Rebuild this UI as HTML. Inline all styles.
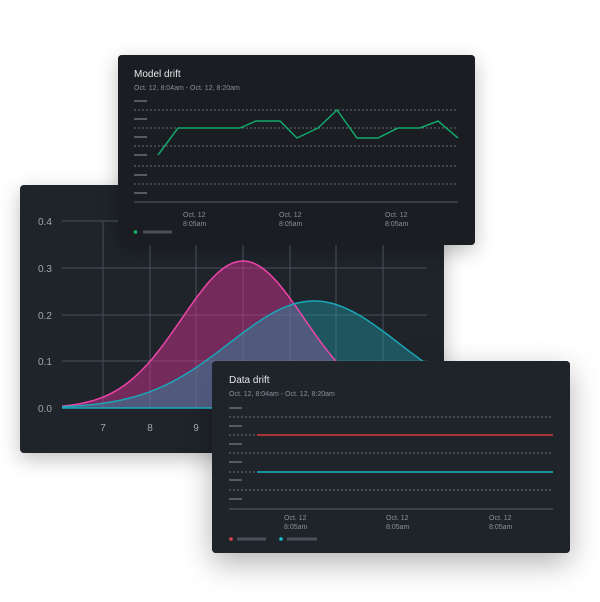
<!DOCTYPE html>
<html><head><meta charset="utf-8"><style>
body{margin:0;width:600px;height:602px;background:#fff;position:relative;overflow:hidden;font-family:"Liberation Sans",sans-serif}
.card{position:absolute;border-radius:4px}
svg{position:absolute;left:0;top:0}
</style></head><body>
<div class="card" style="left:20px;top:185px;width:424px;height:268px;background:#1f242b;box-shadow:0 6px 20px rgba(0,0,0,.25)"></div>
<div class="card" style="left:118px;top:55px;width:357px;height:190px;background:#1a1d21;box-shadow:0 6px 20px rgba(0,0,0,.25)"></div>
<div class="card" style="left:212px;top:361px;width:358px;height:192px;background:#1f242b;box-shadow:0 10px 30px rgba(0,0,0,.3)"></div>
<svg width="600" height="602" font-family="Liberation Sans, sans-serif">
<defs><clipPath id="back"><rect x="20" y="185" width="424" height="268"/></clipPath></defs>
<g clip-path="url(#back)">
<g stroke="#4a5058" stroke-width="1">
<line x1="62" y1="221" x2="427" y2="221"/><line x1="62" y1="268" x2="427" y2="268"/><line x1="62" y1="315" x2="427" y2="315"/><line x1="62" y1="361" x2="427" y2="361"/>
<line x1="103" y1="222" x2="103" y2="408"/><line x1="150" y1="222" x2="150" y2="408"/><line x1="196" y1="222" x2="196" y2="408"/><line x1="243" y1="222" x2="243" y2="408"/><line x1="290" y1="222" x2="290" y2="408"/><line x1="336" y1="222" x2="336" y2="408"/><line x1="383" y1="222" x2="383" y2="408"/>
</g>
<path id="pf" fill="rgba(220,50,150,0.45)"/>
<path id="tf" fill="rgba(30,160,175,0.4)"/>
<path id="pl" fill="none" stroke="#ee44aa" stroke-width="1.5"/>
<path id="tl" fill="none" stroke="#1aa7b8" stroke-width="1.5"/>
<line x1="62" y1="408" x2="427" y2="408" stroke="#1aa7b8" stroke-width="1.5"/>
<g fill="#a0a6ad" font-size="10">
<text x="38" y="225">0.4</text><text x="38" y="272">0.3</text><text x="38" y="319">0.2</text><text x="38" y="365">0.1</text><text x="38" y="412">0.0</text>
<text x="103" y="431" text-anchor="middle">7</text><text x="150" y="431" text-anchor="middle">8</text><text x="196" y="431" text-anchor="middle">9</text>
</g></g>
<!-- model drift -->
<rect x="118" y="55" width="357" height="190" rx="4" fill="#1a1d21"/>
<text x="134" y="77" fill="#e6e8ea" font-size="10">Model drift</text>
<text x="134" y="90" fill="#8a9098" font-size="7">Oct. 12, 8:04am - Oct. 12, 8:20am</text>
<g stroke="#555b62" stroke-width="2"><line x1="134" y1="101" x2="147" y2="101"/><line x1="134" y1="119" x2="147" y2="119"/><line x1="134" y1="137" x2="147" y2="137"/><line x1="134" y1="155" x2="147" y2="155"/><line x1="134" y1="175" x2="147" y2="175"/><line x1="134" y1="193" x2="147" y2="193"/></g>
<g stroke="#6a7078" stroke-width="1" stroke-dasharray="2,2"><line x1="134" y1="110" x2="458" y2="110"/><line x1="134" y1="128" x2="458" y2="128"/><line x1="134" y1="146" x2="458" y2="146"/><line x1="134" y1="166" x2="458" y2="166"/><line x1="134" y1="184" x2="458" y2="184"/></g>
<line x1="134" y1="202" x2="458" y2="202" stroke="#5a6068" stroke-width="1"/>
<polyline fill="none" stroke="#13a86a" stroke-width="1.5" points="158,155 178,128 240,128 256,121 280,121 297,138 318,128 337,110 357,138 378,138 398,128 420,128 438,121 458,138"/>
<g fill="#8a9098" font-size="7"><text x="183" y="217">Oct. 12</text><text x="183" y="226">8:05am</text><text x="279" y="217">Oct. 12</text><text x="279" y="226">8:05am</text><text x="385" y="217">Oct. 12</text><text x="385" y="226">8:05am</text></g>
<circle cx="135.5" cy="232" r="1.8" fill="#13b86a"/><line x1="143" y1="232" x2="172" y2="232" stroke="#4a5058" stroke-width="3"/>
<!-- data drift -->
<rect x="212" y="361" width="358" height="192" rx="4" fill="#1f242b"/>
<text x="229" y="383" fill="#e6e8ea" font-size="10">Data drift</text>
<text x="229" y="396" fill="#8a9098" font-size="7">Oct. 12, 8:04am - Oct. 12, 8:20am</text>
<g stroke="#555b62" stroke-width="2"><line x1="229" y1="408" x2="242" y2="408"/><line x1="229" y1="426" x2="242" y2="426"/><line x1="229" y1="444" x2="242" y2="444"/><line x1="229" y1="462" x2="242" y2="462"/><line x1="229" y1="480" x2="242" y2="480"/><line x1="229" y1="499" x2="242" y2="499"/></g>
<g stroke="#6a7078" stroke-width="1" stroke-dasharray="2,2"><line x1="229" y1="417" x2="553" y2="417"/><line x1="229" y1="435" x2="553" y2="435"/><line x1="229" y1="453" x2="553" y2="453"/><line x1="229" y1="472" x2="553" y2="472"/><line x1="229" y1="490" x2="553" y2="490"/></g>
<line x1="229" y1="509" x2="553" y2="509" stroke="#5a6068" stroke-width="1"/>
<line x1="257" y1="435" x2="553" y2="435" stroke="#d83a3a" stroke-width="1.5"/>
<line x1="257" y1="472" x2="553" y2="472" stroke="#1ab8c0" stroke-width="1.5"/>
<g fill="#8a9098" font-size="7"><text x="284" y="520">Oct. 12</text><text x="284" y="529">8:05am</text><text x="386" y="520">Oct. 12</text><text x="386" y="529">8:05am</text><text x="489" y="520">Oct. 12</text><text x="489" y="529">8:05am</text></g>
<circle cx="231" cy="539" r="1.8" fill="#e04444"/><line x1="237" y1="539" x2="266" y2="539" stroke="#4a5058" stroke-width="3"/>
<circle cx="281" cy="539" r="1.8" fill="#1ac0d0"/><line x1="287" y1="539" x2="317" y2="539" stroke="#4a5058" stroke-width="3"/>
</svg>
<script>
function g(m,h,s){var p=[];for(var x=62;x<=430;x+=2){p.push(x+","+(408-h*Math.exp(-(x-m)*(x-m)/(2*s*s))).toFixed(1));}return p;}
var a=g(243,147,61.4),b=g(314,107,84.6);
document.getElementById('pl').setAttribute('d','M'+a.join('L'));
document.getElementById('tl').setAttribute('d','M'+b.join('L'));
document.getElementById('pf').setAttribute('d','M'+a.join('L')+'L430,408L62,408Z');
document.getElementById('tf').setAttribute('d','M'+b.join('L')+'L430,408L62,408Z');
</script>
</body></html>
